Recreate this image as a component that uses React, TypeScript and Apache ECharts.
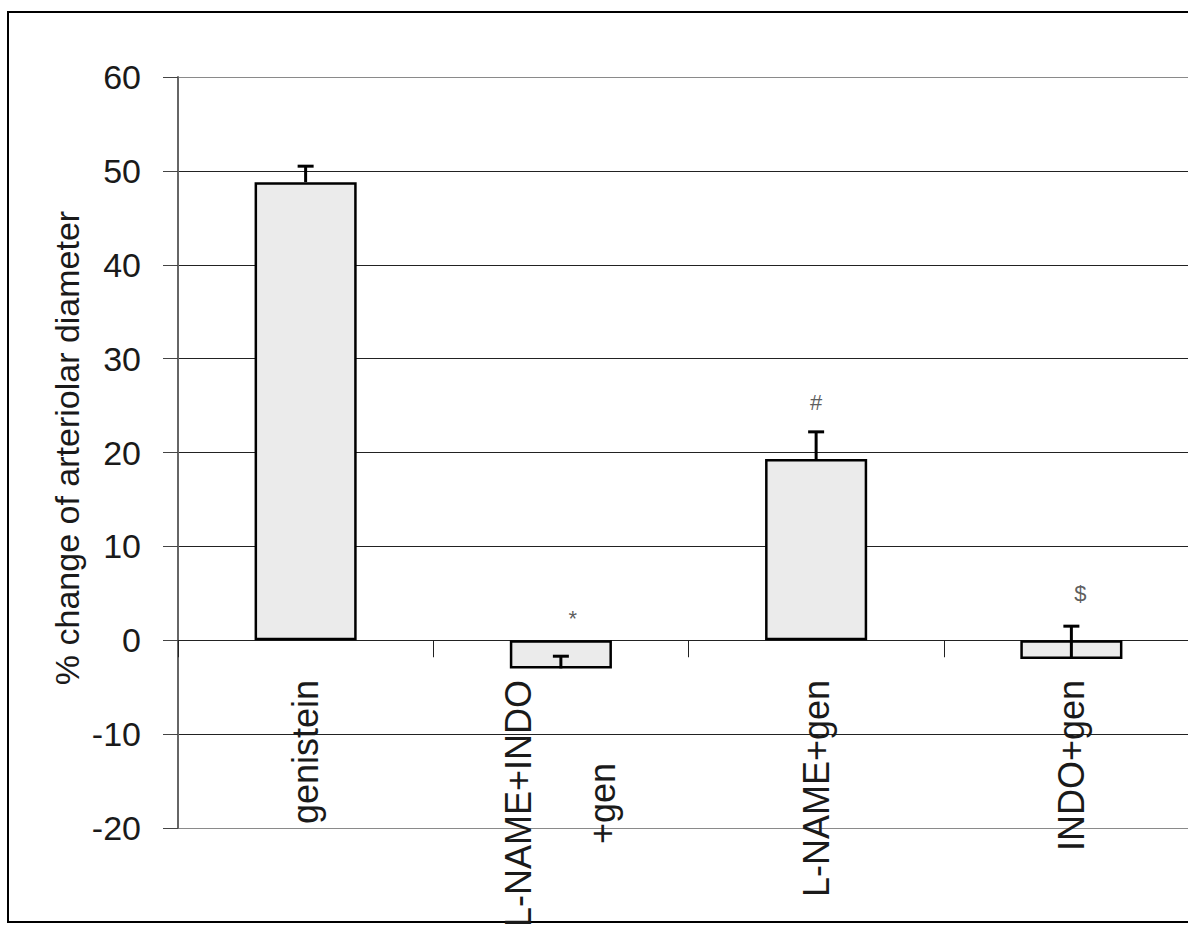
import React, { useEffect, useRef } from 'react';
import * as echarts from 'echarts';

const categories = ['genistein', 'L-NAME+INDO\n+gen', 'L-NAME+gen', 'INDO+gen'];
const means = [48.8, -3.0, 19.3, -2.0];
const errorEnds = [50.5, -1.7, 22.2, 1.5];
const marks = ['', '*', '#', '$'];
const markValues = [null, 2.3, 25.3, 5.0];
const markShift = [0, 12, 0, 9];
const yTitle = '% change of arteriolar diameter';

const FONT = '"Liberation Sans", Arial, sans-serif';

export default function App() {
  const ref = useRef<HTMLDivElement>(null);
  useEffect(() => {
    if (!ref.current) return;
    const chart = echarts.init(ref.current, null, { renderer: 'svg' });
    const option: any = {
      animation: false,
      backgroundColor: '#ffffff',
      textStyle: { fontFamily: FONT },
      grid: {
        left: 178,
        top: 77,
        width: 1021,
        height: 751,
        containLabel: false,
        outerBoundsMode: 'none',
      },
      graphic: [
        {
          type: 'rect',
          z: -10,
          shape: { x: 8, y: 12, width: 1200, height: 910 },
          style: { fill: 'transparent', stroke: '#000', lineWidth: 2 },
        },
        {
          type: 'text',
          x: 67,
          y: 448,
          rotation: Math.PI / 2,
          style: {
            text: yTitle,
            fontSize: 34,
            fontFamily: FONT,
            fill: '#1a1a1a',
            align: 'center',
            verticalAlign: 'middle',
          },
        },
      ],
      xAxis: {
        type: 'category',
        data: categories,
        axisLine: { show: true, onZero: true, lineStyle: { color: '#222', width: 1 } },
        axisTick: { show: true, length: 17, lineStyle: { color: '#222', width: 1 } },
        axisLabel: {
          rotate: 90,
          margin: -148,
          color: '#1a1a1a',
          interval: 0,
          hideOverlap: false,
          formatter: (v: string) => v.split('\n').map((s) => `{c|${s}}`).join('\n'),
          rich: {
            c: { align: 'center', fontSize: 36, lineHeight: 84, fontFamily: FONT, color: '#1a1a1a' },
          },
        },
        splitLine: { show: false },
      },
      yAxis: {
        type: 'value',
        min: -20,
        max: 60,
        interval: 10,
        axisLine: { show: true, lineStyle: { color: '#666', width: 2 } },
        axisTick: { show: true, length: 15, lineStyle: { color: '#444', width: 1 } },
        axisLabel: { fontSize: 34, margin: 37, color: '#1a1a1a', fontFamily: FONT },
        splitLine: {
          show: true,
          lineStyle: {
            color: ['#8a8a8a', '#222', '#222', '#222', '#222', '#222', '#222', '#222', '#8a8a8a'],
            width: 1,
          },
        },
      },
      series: [
        {
          type: 'bar',
          data: means,
          barWidth: '40%',
          itemStyle: { color: '#ebebeb', borderColor: '#000', borderWidth: 2.5 },
          z: 2,
        },
        {
          type: 'custom',
          z: 3,
          data: means.map((m, i) => [i, m, errorEnds[i]]),
          encode: { x: 0, y: [1, 2] },
          renderItem: (params: any, api: any) => {
            const i = api.value(0);
            const base = api.coord([i, api.value(1)]);
            const end = api.coord([i, api.value(2)]);
            return {
              type: 'group',
              children: [
                {
                  type: 'line',
                  shape: { x1: base[0], y1: base[1], x2: end[0], y2: end[1] },
                  style: { stroke: '#000', lineWidth: 3 },
                },
                {
                  type: 'line',
                  shape: { x1: end[0] - 8, y1: end[1], x2: end[0] + 8, y2: end[1] },
                  style: { stroke: '#000', lineWidth: 3 },
                },
              ],
            };
          },
        },
        {
          type: 'scatter',
          z: 4,
          symbolSize: 0,
          data: markValues.map((v, i) =>
            v == null
              ? [i, '-']
              : { value: [i, v], label: { offset: [markShift[i], 0] } }
          ),
          label: {
            show: true,
            position: 'inside',
            formatter: (p: any) => marks[p.dataIndex],
            fontSize: 22,
            color: '#333',
            fontFamily: FONT,
          },
          tooltip: { show: false },
        },
      ],
    };
    chart.setOption(option);
    return () => chart.dispose();
  }, []);
  return (
    <div
      ref={ref}
      style={{ position: 'absolute', left: 0, top: 0, width: 1188, height: 929 }}
    />
  );
}
